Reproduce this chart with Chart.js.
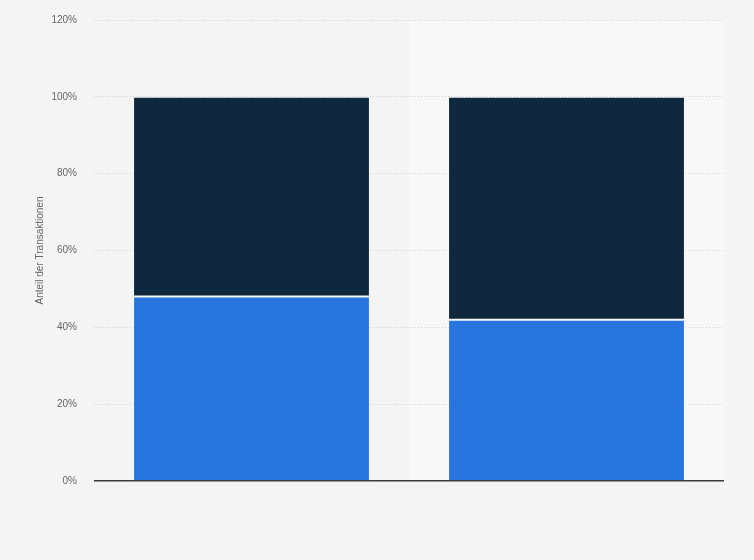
<!DOCTYPE html>
<html>
<head>
<meta charset="utf-8">
<script src="https://cdn.jsdelivr.net/npm/chart.js@4/dist/chart.umd.min.js"></script>
<style>
  html, body { margin: 0; padding: 0; background: #f4f4f4; }
  #wrap { width: 754px; height: 560px; }
</style>
</head>
<body>
<div id="wrap"><canvas id="chart" width="754" height="560"></canvas></div>
<script>
// data
const categories = ["Kategorie 1", "Kategorie 2"];
const lowerShare = [48, 42];
const upperShare = [52, 58];
const yTicks = [0, 20, 40, 60, 80, 100, 120];

// lighter band behind the second category
const bandPlugin = {
  id: "band",
  beforeDraw(chart) {
    const x = chart.scales.x;
    const area = chart.chartArea;
    const ctx = chart.ctx;
    const half = (x.getPixelForValue(1) - x.getPixelForValue(0)) / 2;
    ctx.save();
    ctx.fillStyle = "#f8f8f8";
    ctx.fillRect(x.getPixelForValue(1) - half, area.top, half * 2, area.bottom - area.top);
    ctx.restore();
  }
};

new Chart(document.getElementById("chart"), {
  type: "bar",
  data: {
    labels: categories,
    datasets: [
      {
        label: "Anteil 1",
        data: lowerShare,
        backgroundColor: "#2876dd",
        borderColor: "rgba(255,255,255,0.55)",
        borderWidth: 1,
        borderSkipped: "start"
      },
      {
        label: "Anteil 2",
        data: upperShare,
        backgroundColor: "#0f283e",
        borderColor: "rgba(255,255,255,0.4)",
        borderWidth: 1,
        borderSkipped: false
      }
    ]
  },
  plugins: [bandPlugin],
  options: {
    responsive: false,
    animation: false,
    layout: { padding: { left: 0, top: 20, right: 30, bottom: 79 } },
    plugins: { legend: { display: false }, tooltip: { enabled: false } },
    datasets: { bar: { categoryPercentage: 1, barPercentage: 0.752 } },
    scales: {
      x: { stacked: true, display: false },
      y: {
        stacked: true,
        min: 0,
        max: 120,
        afterBuildTicks(scale) {
          scale.ticks = yTicks.map(v => ({ value: v }));
        },
        afterFit(scale) {
          scale.width = 94;
          scale.paddingTop = 0;
          scale.paddingBottom = 0;
        },
        ticks: {
          color: "#666",
          font: { family: "Liberation Sans, Arial", size: 10 },
          padding: 17,
          callback: v => v + "%"
        },
        grid: {
          drawTicks: false,
          color: ctx => ctx.tick && ctx.tick.value === 0 ? "#3a3a3a" : "#d2d2d2",
          lineWidth: ctx => ctx.tick && ctx.tick.value === 0 ? 1.5 : 1
        },
        border: {
          display: false,
          dash: ctx => ctx.tick && ctx.tick.value === 0 ? [] : [1, 2]
        },
        title: {
          display: true,
          text: "Anteil der Transaktionen",
          color: "#666",
          font: { family: "Liberation Sans, Arial", size: 10 },
          padding: { top: 34, bottom: 0 }
        }
      }
    }
  }
});
</script>
</body>
</html>
